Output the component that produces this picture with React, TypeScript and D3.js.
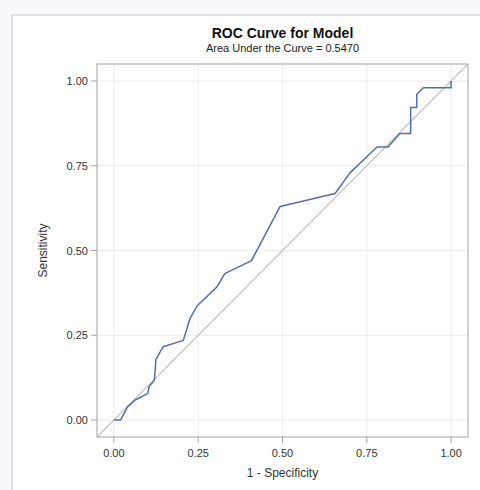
import React from "react";
import * as d3 from "d3";

const fpr = [0, 0.02, 0.04, 0.063, 0.1, 0.105, 0.12, 0.125, 0.146, 0.206, 0.226, 0.247, 0.305, 0.329, 0.408, 0.493, 0.656, 0.7, 0.78, 0.813, 0.848, 0.88, 0.88, 0.898, 0.898, 0.918, 1.0, 1.0];
const tpr = [0, 0, 0.038, 0.059, 0.078, 0.1, 0.117, 0.18, 0.216, 0.235, 0.3, 0.337, 0.392, 0.432, 0.47, 0.63, 0.668, 0.729, 0.805, 0.805, 0.845, 0.845, 0.922, 0.922, 0.961, 0.98, 0.98, 1.0];
const ticks = [0, 0.25, 0.5, 0.75, 1.0];
const title = "ROC Curve for Model";
const subtitle = "Area Under the Curve = 0.5470";
const xLabel = "1 - Specificity";
const yLabel = "Sensitivity";

const W = 480;
const H = 490;
const plot = { left: 97, top: 64, right: 468, bottom: 437 };
const FONT = "'Liberation Sans', Arial, sans-serif";

export default function App() {
  const x = d3.scaleLinear().domain([-0.05, 1.05]).range([plot.left, plot.right]);
  const y = d3.scaleLinear().domain([-0.05, 1.05]).range([plot.bottom, plot.top]);
  const pts: [number, number][] = fpr.map((f, i) => [f, tpr[i]]);
  const line = d3.line<[number, number]>().x((d) => x(d[0])).y((d) => y(d[1]));
  const diag = line([[-0.05, -0.05], [1.05, 1.05]]) || "";
  const cx = (plot.left + plot.right) / 2;
  const cy = (plot.top + plot.bottom) / 2;
  return (
    <div style={{ position: "absolute", left: 0, top: 0 }}>
      <svg width={W} height={H} style={{ display: "block" }}>
        <rect x={0} y={0} width={W} height={H} fill="#f7f8fc" />
        <rect x={12} y={15} width={W} height={H} fill="#ffffff" stroke="#c9c9d2" strokeWidth={1} />
        <defs>
          <clipPath id="clip">
            <rect x={plot.left} y={plot.top} width={plot.right - plot.left} height={plot.bottom - plot.top} />
          </clipPath>
        </defs>
        {ticks.map((t) => (
          <g key={"g" + t}>
            <line x1={x(t)} x2={x(t)} y1={plot.top} y2={plot.bottom} stroke="#ececec" strokeWidth={1} />
            <line x1={plot.left} x2={plot.right} y1={y(t)} y2={y(t)} stroke="#ececec" strokeWidth={1} />
          </g>
        ))}
        <g clipPath="url(#clip)">
          <path d={diag} fill="none" stroke="#bdbdbd" strokeWidth={1.2} />
          <path d={line(pts) || ""} fill="none" stroke="#5270a8" strokeWidth={1.5} strokeLinejoin="round" />
        </g>
        <rect x={plot.left} y={plot.top} width={plot.right - plot.left} height={plot.bottom - plot.top} fill="none" stroke="#a4a4a4" strokeWidth={1} />
        {ticks.map((t) => (
          <g key={"t" + t} fontFamily={FONT} fontSize={11} fill="#333">
            <line x1={x(t)} x2={x(t)} y1={plot.bottom} y2={plot.bottom + 6} stroke="#a4a4a4" />
            <text x={x(t)} y={plot.bottom + 20} textAnchor="middle">{d3.format(".2f")(t)}</text>
            <line x1={plot.left - 6} x2={plot.left} y1={y(t)} y2={y(t)} stroke="#a4a4a4" />
            <text x={plot.left - 9} y={y(t) + 4} textAnchor="end">{d3.format(".2f")(t)}</text>
          </g>
        ))}
        <text x={cx} y={38} textAnchor="middle" fontFamily={FONT} fontSize={14} fontWeight="bold" fill="#111">{title}</text>
        <text x={cx} y={52} textAnchor="middle" fontFamily={FONT} fontSize={11} fill="#222">{subtitle}</text>
        <text x={cx} y={477} textAnchor="middle" fontFamily={FONT} fontSize={12} fill="#333">{xLabel}</text>
        <text transform={`translate(47,${cy}) rotate(-90)`} textAnchor="middle" fontFamily={FONT} fontSize={12} fill="#333">{yLabel}</text>
      </svg>
    </div>
  );
}
